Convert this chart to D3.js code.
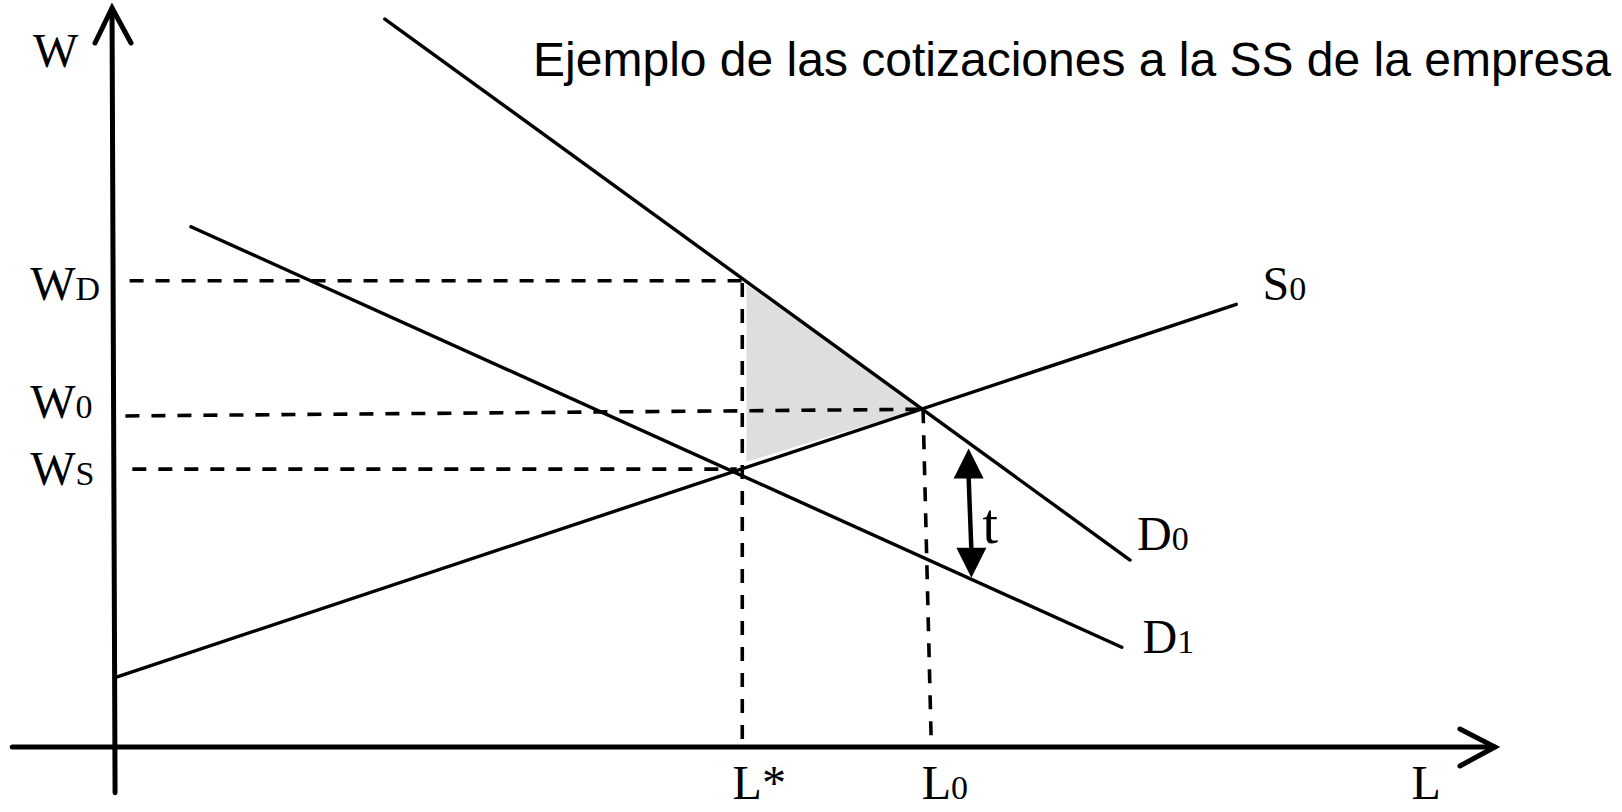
<!DOCTYPE html>
<html>
<head>
<meta charset="utf-8">
<script src="https://cdn.jsdelivr.net/npm/d3@7"></script>
<style>
  html, body { margin: 0; padding: 0; background: #fff; }
  svg { display: block; }
</style>
</head>
<body>
<div id="chart"></div>
<script>
// curves, in (L, W) units
const supplyS0 = [[0.3, 9.5], [81.4, 59.9]];
const demandD0 = [[19.7, 98.5], [73.7, 25.3]];
const demandD1 = [[5.65, 70.4], [73.1, 13.5]];

// dashed guides
const guideWD = [[1.2, 63.1], [45.6, 63.1]];
const guideW0 = [[0.9, 44.8], [58.7, 45.7]];
const guideWS = [[1.4, 37.6], [45.2, 37.6]];
const guideLstar = [[45.6, 62.8], [45.6, 0]];
const guideL0 = [[58.7, 45.7], [59.3, 0]];

// shaded triangle (excess burden)
const burdenTriangle = [[45.9, 62.5], [58.7, 45.9], [45.9, 38.6]];

// tax wedge arrow
const taxArrow = [[62.0, 40.4], [62.2, 22.9]];

// axes
const axisW = [[0.15, -6.2], [-0.07, 100]];
const axisL = [[-7.3, 0], [100.14, 0]];

// labels: main text, subscript, anchor (L, W)
const labels = [
  { main: "W", sub: "",  at: [-5.8, 92.0] },
  { main: "W", sub: "D", at: [-6.0, 60.5] },
  { main: "W", sub: "0", at: [-6.0, 44.5] },
  { main: "W", sub: "S", at: [-6.0, 35.5] },
  { main: "S", sub: "0", at: [83.3, 60.5] },
  { main: "D", sub: "0", at: [74.2, 26.7] },
  { main: "D", sub: "1", at: [74.6, 12.7] },
  { main: "L*", sub: "", at: [44.9, -7.1] },
  { main: "L", sub: "0", at: [58.6, -7.1] },
  { main: "L", sub: "",  at: [94.1, -7.1] }
];
const taxLabel = { text: "t", at: [63.0, 27.6] };
const title = "Ejemplo de las cotizaciones a la SS de la empresa";

const width = 1622, height = 812;

const svg = d3.select("#chart").append("svg")
  .attr("width", width)
  .attr("height", height);

const x = d3.scaleLinear().domain([0, 100]).range([113, 1493]);
const y = d3.scaleLinear().domain([0, 100]).range([747, 8]);

const line = d3.line().x(d => x(d[0])).y(d => y(d[1]));
const closed = d3.line().x(d => x(d[0])).y(d => y(d[1])).curve(d3.curveLinearClosed);

// shaded area first
svg.append("path")
  .datum(burdenTriangle)
  .attr("d", closed)
  .attr("fill", "#dedede")
  .attr("stroke", "none");

// dashed guides
[guideWD, guideW0, guideWS, guideLstar, guideL0].forEach(g => {
  svg.append("path")
    .datum(g)
    .attr("d", line)
    .attr("fill", "none")
    .attr("stroke", "#000")
    .attr("stroke-width", 3.6)
    .attr("stroke-dasharray", "14,12");
});

// curves
[supplyS0, demandD0, demandD1].forEach(c => {
  svg.append("path")
    .datum(c)
    .attr("d", line)
    .attr("fill", "none")
    .attr("stroke", "#000")
    .attr("stroke-width", 3.4)
    .attr("stroke-linecap", "round");
});

// axes with open arrowheads
function axisArrow(pts, wing) {
  svg.append("path")
    .datum(pts)
    .attr("d", line)
    .attr("fill", "none")
    .attr("stroke", "#000")
    .attr("stroke-width", 5)
    .attr("stroke-linecap", "round");
  const tx = x(pts[1][0]), ty = y(pts[1][1]);
  svg.append("path")
    .attr("d", d3.line()([[tx + wing[0][0], ty + wing[0][1]], [tx, ty], [tx + wing[1][0], ty + wing[1][1]]]))
    .attr("fill", "none")
    .attr("stroke", "#000")
    .attr("stroke-width", 5)
    .attr("stroke-linecap", "round")
    .attr("stroke-linejoin", "miter");
}
axisArrow(axisW, [[-17, 35], [19, 35]]);
axisArrow(axisL, [[-35, -18], [-35, 19]]);

// tax wedge arrow (double headed, filled)
const ax0 = x(taxArrow[0][0]), ay0 = y(taxArrow[0][1]);
const ax1 = x(taxArrow[1][0]), ay1 = y(taxArrow[1][1]);
const headL = 30, headW = 15;
svg.append("line")
  .attr("x1", ax0).attr("y1", ay0 + headL - 2)
  .attr("x2", ax1).attr("y2", ay1 - headL + 2)
  .attr("stroke", "#000")
  .attr("stroke-width", 4.5);
svg.append("path")
  .attr("d", `M${ax0},${ay0} L${ax0 - headW},${ay0 + headL} L${ax0 + headW},${ay0 + headL} Z`)
  .attr("fill", "#000");
svg.append("path")
  .attr("d", `M${ax1},${ay1} L${ax1 - headW},${ay1 - headL} L${ax1 + headW},${ay1 - headL} Z`)
  .attr("fill", "#000");

// labels
const serif = "'Liberation Serif', 'Times New Roman', serif";
labels.forEach(l => {
  const t = svg.append("text")
    .attr("x", x(l.at[0]))
    .attr("y", y(l.at[1]))
    .attr("font-family", serif)
    .attr("font-size", 48)
    .attr("fill", "#000");
  t.append("tspan").text(l.main);
  if (l.sub) t.append("tspan").attr("font-size", 34).text(l.sub);
});

svg.append("text")
  .attr("x", x(taxLabel.at[0]))
  .attr("y", y(taxLabel.at[1]))
  .attr("font-family", serif)
  .attr("font-size", 56)
  .attr("fill", "#000")
  .text(taxLabel.text);

// title
svg.append("text")
  .attr("x", 1611)
  .attr("y", 76)
  .attr("text-anchor", "end")
  .attr("font-family", "'Liberation Sans', Arial, sans-serif")
  .attr("font-size", 48)
  .attr("fill", "#000")
  .text(title);
</script>
</body>
</html>
